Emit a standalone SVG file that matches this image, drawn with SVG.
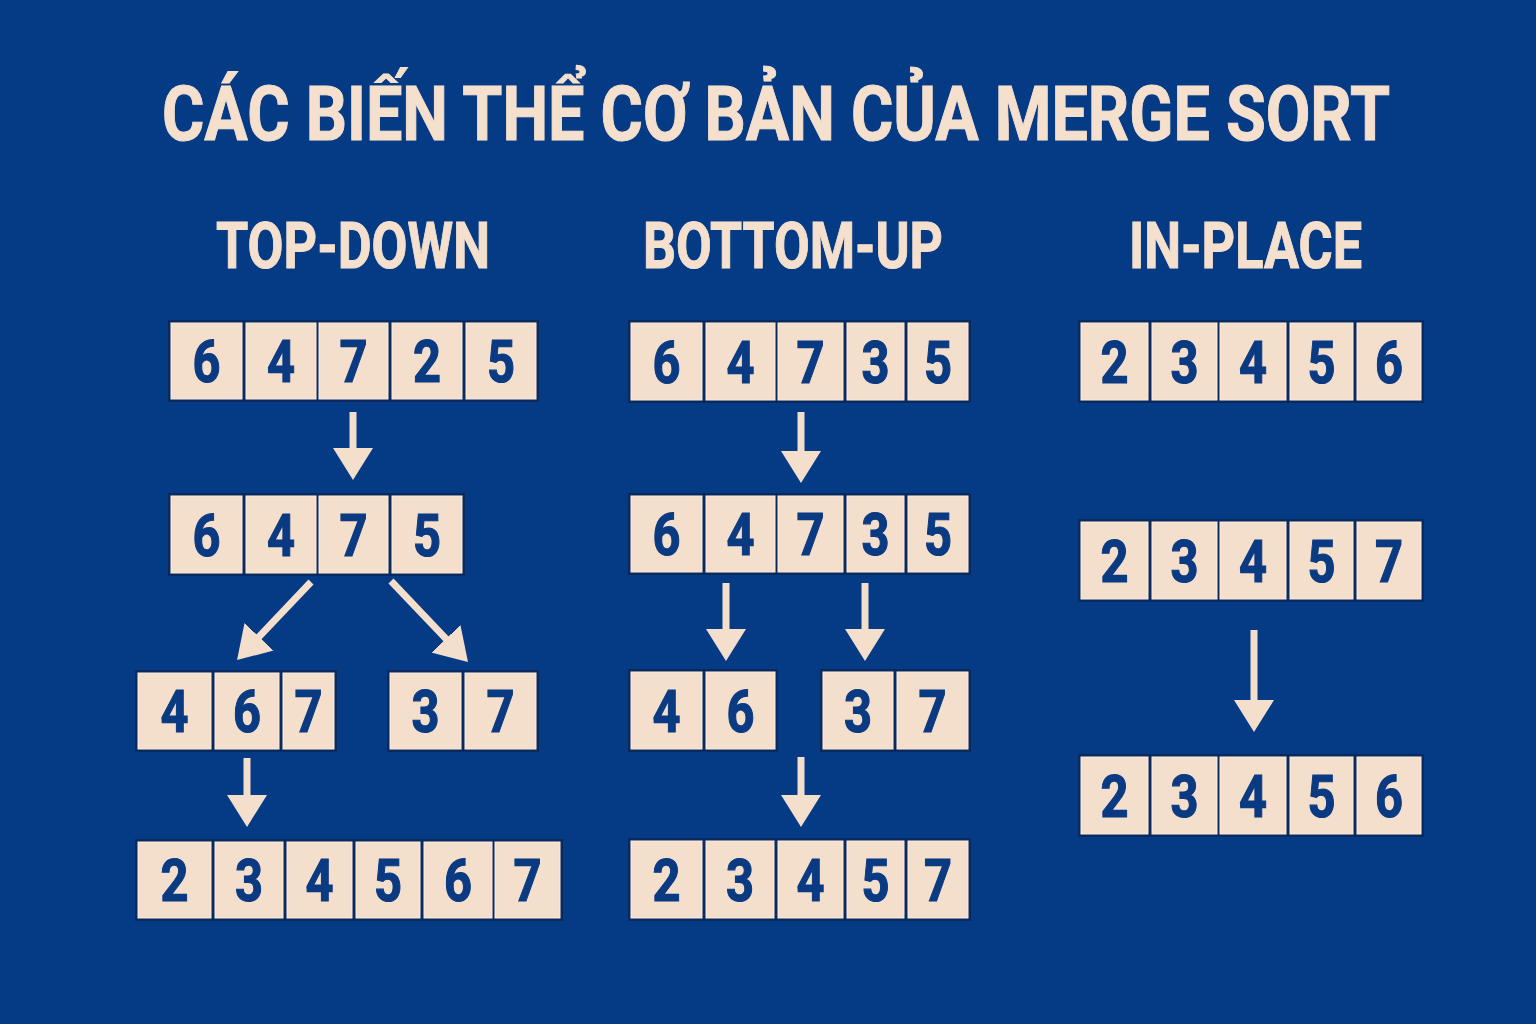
<svg xmlns="http://www.w3.org/2000/svg" width="1536" height="1024" viewBox="0 0 1536 1024">
<defs>
<style>
.bg{fill:#053A85}
.title{font-family:Roboto,"Liberation Sans",sans-serif;font-weight:700;fill:#F5E0CE;stroke:#F5E0CE;stroke-width:1;text-anchor:middle}
.back{fill:#0A2A5E}
.cell{fill:#F4DECC;stroke:#FBEEE2;stroke-width:1}
.d{font-family:Roboto,"Liberation Sans",sans-serif;font-weight:700;font-size:59px;fill:#0A3A82;stroke:#0A3A82;stroke-width:1.2;text-anchor:middle}
.arr{stroke:#F4DECC;stroke-width:7;fill:none;marker-end:url(#head)}
</style>
<marker id="head" viewBox="0 0 32 40" refX="4" refY="20" markerWidth="32" markerHeight="40" markerUnits="userSpaceOnUse" orient="auto">
<path d="M0,0 L32,20 L0,40 Z" fill="#F4DECC"/>
</marker>
</defs>
<rect class="bg" x="0" y="0" width="1536" height="1024"/>

<g id="title">
<text class="title" x="776" y="140" font-size="76" textLength="1228" lengthAdjust="spacingAndGlyphs">CÁC BIẾN THỂ CƠ BẢN CỦA MERGE SORT</text>
</g>
<g id="heading-topdown">
<text class="title" x="353" y="268" font-size="64" textLength="274" lengthAdjust="spacingAndGlyphs">TOP-DOWN</text>
</g>
<g id="heading-bottomup">
<text class="title" x="793" y="268" font-size="64" textLength="300" lengthAdjust="spacingAndGlyphs">BOTTOM-UP</text>
</g>
<g id="heading-inplace">
<text class="title" x="1245.5" y="268" font-size="64" textLength="233" lengthAdjust="spacingAndGlyphs">IN-PLACE</text>
</g>

<!-- TOP-DOWN -->
<g id="td-row1">
<rect class="back" x="168" y="320" width="371" height="82"/>
<rect class="cell" x="171" y="323" width="71" height="76"/><text class="d" x="206.5" y="382" textLength="28" lengthAdjust="spacingAndGlyphs">6</text>
<rect class="cell" x="246" y="323" width="70" height="76"/><text class="d" x="281" y="382" textLength="28" lengthAdjust="spacingAndGlyphs">4</text>
<rect class="cell" x="319" y="323" width="69" height="76"/><text class="d" x="353.5" y="382" textLength="28" lengthAdjust="spacingAndGlyphs">7</text>
<rect class="cell" x="392" y="323" width="70" height="76"/><text class="d" x="427" y="382" textLength="28" lengthAdjust="spacingAndGlyphs">2</text>
<rect class="cell" x="466" y="323" width="70" height="76"/><text class="d" x="501" y="382" textLength="28" lengthAdjust="spacingAndGlyphs">5</text>
</g>
<g id="td-row2">
<rect class="back" x="168" y="493" width="297" height="83"/>
<rect class="cell" x="171" y="496" width="71" height="77"/><text class="d" x="206.5" y="555.5" textLength="28" lengthAdjust="spacingAndGlyphs">6</text>
<rect class="cell" x="246" y="496" width="70" height="77"/><text class="d" x="281" y="555.5" textLength="28" lengthAdjust="spacingAndGlyphs">4</text>
<rect class="cell" x="319" y="496" width="69" height="77"/><text class="d" x="353.5" y="555.5" textLength="28" lengthAdjust="spacingAndGlyphs">7</text>
<rect class="cell" x="392" y="496" width="70" height="77"/><text class="d" x="427" y="555.5" textLength="28" lengthAdjust="spacingAndGlyphs">5</text>
</g>
<g id="td-row3-left">
<rect class="back" x="135" y="670" width="202" height="82"/>
<rect class="cell" x="138" y="673" width="73" height="76"/><text class="d" x="174.5" y="732" textLength="28" lengthAdjust="spacingAndGlyphs">4</text>
<rect class="cell" x="215" y="673" width="64" height="76"/><text class="d" x="247" y="732" textLength="28" lengthAdjust="spacingAndGlyphs">6</text>
<rect class="cell" x="283" y="673" width="51" height="76"/><text class="d" x="308.5" y="732" textLength="28" lengthAdjust="spacingAndGlyphs">7</text>
</g>
<g id="td-row3-right">
<rect class="back" x="387" y="670" width="152" height="82"/>
<rect class="cell" x="390" y="673" width="71" height="76"/><text class="d" x="425.5" y="732" textLength="28" lengthAdjust="spacingAndGlyphs">3</text>
<rect class="cell" x="465" y="673" width="71" height="76"/><text class="d" x="500.5" y="732" textLength="28" lengthAdjust="spacingAndGlyphs">7</text>
</g>
<g id="td-row4">
<rect class="back" x="135" y="839" width="428" height="82"/>
<rect class="cell" x="138" y="842" width="73" height="76"/><text class="d" x="174.5" y="901" textLength="28" lengthAdjust="spacingAndGlyphs">2</text>
<rect class="cell" x="215" y="842" width="68" height="76"/><text class="d" x="249" y="901" textLength="28" lengthAdjust="spacingAndGlyphs">3</text>
<rect class="cell" x="287" y="842" width="65" height="76"/><text class="d" x="319.5" y="901" textLength="28" lengthAdjust="spacingAndGlyphs">4</text>
<rect class="cell" x="356" y="842" width="64" height="76"/><text class="d" x="388" y="901" textLength="28" lengthAdjust="spacingAndGlyphs">5</text>
<rect class="cell" x="424" y="842" width="68" height="76"/><text class="d" x="458" y="901" textLength="28" lengthAdjust="spacingAndGlyphs">6</text>
<rect class="cell" x="495" y="842" width="65" height="76"/><text class="d" x="527.5" y="901" textLength="28" lengthAdjust="spacingAndGlyphs">7</text>
</g>

<!-- BOTTOM-UP -->
<g id="bu-row1">
<rect class="back" x="628" y="320" width="343" height="83"/>
<rect class="cell" x="631" y="323" width="71" height="77"/><text class="d" x="666.5" y="382.5" textLength="28" lengthAdjust="spacingAndGlyphs">6</text>
<rect class="cell" x="706" y="323" width="69" height="77"/><text class="d" x="740.5" y="382.5" textLength="28" lengthAdjust="spacingAndGlyphs">4</text>
<rect class="cell" x="778" y="323" width="65" height="77"/><text class="d" x="810.5" y="382.5" textLength="28" lengthAdjust="spacingAndGlyphs">7</text>
<rect class="cell" x="847" y="323" width="57" height="77"/><text class="d" x="875.5" y="382.5" textLength="28" lengthAdjust="spacingAndGlyphs">3</text>
<rect class="cell" x="908" y="323" width="60" height="77"/><text class="d" x="938" y="382.5" textLength="28" lengthAdjust="spacingAndGlyphs">5</text>
</g>
<g id="bu-row2">
<rect class="back" x="628" y="493" width="343" height="82"/>
<rect class="cell" x="631" y="496" width="71" height="76"/><text class="d" x="666.5" y="555" textLength="28" lengthAdjust="spacingAndGlyphs">6</text>
<rect class="cell" x="706" y="496" width="69" height="76"/><text class="d" x="740.5" y="555" textLength="28" lengthAdjust="spacingAndGlyphs">4</text>
<rect class="cell" x="778" y="496" width="65" height="76"/><text class="d" x="810.5" y="555" textLength="28" lengthAdjust="spacingAndGlyphs">7</text>
<rect class="cell" x="847" y="496" width="57" height="76"/><text class="d" x="875.5" y="555" textLength="28" lengthAdjust="spacingAndGlyphs">3</text>
<rect class="cell" x="908" y="496" width="60" height="76"/><text class="d" x="938" y="555" textLength="28" lengthAdjust="spacingAndGlyphs">5</text>
</g>
<g id="bu-row3-left">
<rect class="back" x="628" y="669" width="150" height="83"/>
<rect class="cell" x="631" y="672" width="71" height="77"/><text class="d" x="666.5" y="731.5" textLength="28" lengthAdjust="spacingAndGlyphs">4</text>
<rect class="cell" x="706" y="672" width="69" height="77"/><text class="d" x="740.5" y="731.5" textLength="28" lengthAdjust="spacingAndGlyphs">6</text>
</g>
<g id="bu-row3-right">
<rect class="back" x="820" y="669" width="151" height="83"/>
<rect class="cell" x="823" y="672" width="70" height="77"/><text class="d" x="858" y="731.5" textLength="28" lengthAdjust="spacingAndGlyphs">3</text>
<rect class="cell" x="897" y="672" width="71" height="77"/><text class="d" x="932.5" y="731.5" textLength="28" lengthAdjust="spacingAndGlyphs">7</text>
</g>
<g id="bu-row4">
<rect class="back" x="628" y="838" width="343" height="83"/>
<rect class="cell" x="631" y="841" width="71" height="77"/><text class="d" x="666.5" y="900.5" textLength="28" lengthAdjust="spacingAndGlyphs">2</text>
<rect class="cell" x="706" y="841" width="68" height="77"/><text class="d" x="740" y="900.5" textLength="28" lengthAdjust="spacingAndGlyphs">3</text>
<rect class="cell" x="778" y="841" width="65" height="77"/><text class="d" x="810.5" y="900.5" textLength="28" lengthAdjust="spacingAndGlyphs">4</text>
<rect class="cell" x="847" y="841" width="57" height="77"/><text class="d" x="875.5" y="900.5" textLength="28" lengthAdjust="spacingAndGlyphs">5</text>
<rect class="cell" x="908" y="841" width="60" height="77"/><text class="d" x="938" y="900.5" textLength="28" lengthAdjust="spacingAndGlyphs">7</text>
</g>

<!-- IN-PLACE -->
<g id="ip-row1">
<rect class="back" x="1078" y="320" width="346" height="83"/>
<rect class="cell" x="1081" y="323" width="67" height="77"/><text class="d" x="1114.5" y="382.5" textLength="28" lengthAdjust="spacingAndGlyphs">2</text>
<rect class="cell" x="1152" y="323" width="65" height="77"/><text class="d" x="1184.5" y="382.5" textLength="28" lengthAdjust="spacingAndGlyphs">3</text>
<rect class="cell" x="1220" y="323" width="66" height="77"/><text class="d" x="1253" y="382.5" textLength="28" lengthAdjust="spacingAndGlyphs">4</text>
<rect class="cell" x="1290" y="323" width="63" height="77"/><text class="d" x="1321.5" y="382.5" textLength="28" lengthAdjust="spacingAndGlyphs">5</text>
<rect class="cell" x="1357" y="323" width="64" height="77"/><text class="d" x="1389" y="382.5" textLength="28" lengthAdjust="spacingAndGlyphs">6</text>
</g>
<g id="ip-row2">
<rect class="back" x="1078" y="519" width="346" height="83"/>
<rect class="cell" x="1081" y="522" width="67" height="77"/><text class="d" x="1114.5" y="581.5" textLength="28" lengthAdjust="spacingAndGlyphs">2</text>
<rect class="cell" x="1152" y="522" width="65" height="77"/><text class="d" x="1184.5" y="581.5" textLength="28" lengthAdjust="spacingAndGlyphs">3</text>
<rect class="cell" x="1220" y="522" width="66" height="77"/><text class="d" x="1253" y="581.5" textLength="28" lengthAdjust="spacingAndGlyphs">4</text>
<rect class="cell" x="1290" y="522" width="63" height="77"/><text class="d" x="1321.5" y="581.5" textLength="28" lengthAdjust="spacingAndGlyphs">5</text>
<rect class="cell" x="1357" y="522" width="64" height="77"/><text class="d" x="1389" y="581.5" textLength="28" lengthAdjust="spacingAndGlyphs">7</text>
</g>
<g id="ip-row3">
<rect class="back" x="1078" y="754" width="346" height="83"/>
<rect class="cell" x="1081" y="757" width="67" height="77"/><text class="d" x="1114.5" y="816.5" textLength="28" lengthAdjust="spacingAndGlyphs">2</text>
<rect class="cell" x="1152" y="757" width="65" height="77"/><text class="d" x="1184.5" y="816.5" textLength="28" lengthAdjust="spacingAndGlyphs">3</text>
<rect class="cell" x="1220" y="757" width="66" height="77"/><text class="d" x="1253" y="816.5" textLength="28" lengthAdjust="spacingAndGlyphs">4</text>
<rect class="cell" x="1290" y="757" width="63" height="77"/><text class="d" x="1321.5" y="816.5" textLength="28" lengthAdjust="spacingAndGlyphs">5</text>
<rect class="cell" x="1357" y="757" width="64" height="77"/><text class="d" x="1389" y="816.5" textLength="28" lengthAdjust="spacingAndGlyphs">6</text>
</g>

<g id="connectors">
<line class="arr" x1="353" y1="412" x2="353" y2="452"/>
<line class="arr" x1="311" y1="582" x2="256.3" y2="639.7"/>
<line class="arr" x1="391" y1="581" x2="448.7" y2="641.7"/>
<line class="arr" x1="247" y1="758" x2="247" y2="799"/>
<line class="arr" x1="801" y1="412" x2="801" y2="455"/>
<line class="arr" x1="726" y1="583" x2="726" y2="633"/>
<line class="arr" x1="865" y1="583" x2="865" y2="633"/>
<line class="arr" x1="801" y1="757" x2="801" y2="799"/>
<line class="arr" x1="1254" y1="630" x2="1254" y2="704"/>
</g>
</svg>
